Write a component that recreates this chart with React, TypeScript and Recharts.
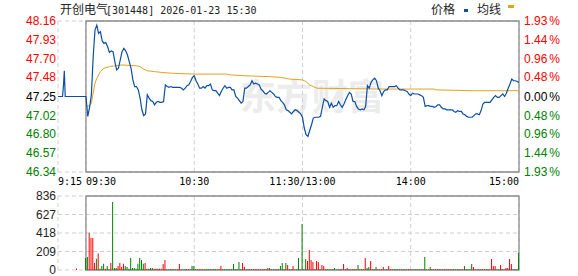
import React from 'react';
import { ComposedChart, Line, Bar, Cell, XAxis, YAxis, CartesianGrid, ReferenceArea } from 'recharts';

const prevClose = 47.25;
const priceTicks = [46.34, 46.57, 46.8, 47.02, 47.25, 47.48, 47.7, 47.93, 48.16];
const pctLabels = ['1.93%', '1.44%', '0.96%', '0.48%', '0.00%', '0.48%', '0.96%', '1.44%', '1.93%'];
const timeTicks = [-15.5, 0, 60, 120, 180, 240];
const timeLabels = ['9:15', '09:30', '10:30', '11:30/13:00', '14:00', '15:00'];
const volTicks = [0, 209, 418, 627, 836];

// call auction 9:15-9:30 (minutes before 9:30)
const preTimes = [-15.5, -13, -12.5, -12, -11.5, -1];
const prePrices = [47.25, 47.25, 47.37, 47.56, 47.25, 47.25];

// one price per minute, 9:30 .. 15:00 (lunch break removed)
const prices = [
  47.25, 47.01, 47.12, 47.27, 47.73, 48.05, 48.11, 48.01, 48.03, 47.92,
  47.89, 47.9, 47.85, 47.78, 47.8, 47.79, 47.67, 47.57, 47.59, 47.69,
  47.79, 47.83, 47.8, 47.75, 47.67, 47.59, 47.45, 47.37, 47.37, 47.33,
  47.23, 47.09, 47.02, 47.04, 47.27, 47.23, 47.2, 47.19, 47.15, 47.18,
  47.19, 47.18, 47.18, 47.19, 47.39, 47.37, 47.36, 47.37, 47.36, 47.36,
  47.36, 47.36, 47.36, 47.35, 47.33, 47.35, 47.38, 47.39, 47.43, 47.48,
  47.5, 47.44, 47.4, 47.35, 47.35, 47.37, 47.35, 47.38, 47.38, 47.4,
  47.33, 47.32, 47.32, 47.29, 47.26, 47.31, 47.35, 47.38, 47.35, 47.36,
  47.36, 47.33, 47.33, 47.25, 47.23, 47.2, 47.17, 47.19, 47.35, 47.35,
  47.37, 47.39, 47.44, 47.4, 47.41, 47.4, 47.39, 47.34, 47.32, 47.29,
  47.28, 47.3, 47.32, 47.3, 47.28, 47.25, 47.24, 47.24, 47.2, 47.18,
  47.15, 47.09, 47.08, 47.06, 47.04, 47.07, 47.09, 47.08, 47.06, 47.04,
  47.0, 46.87, 46.79, 46.77, 46.84, 46.91, 46.99, 47.0, 47.0, 47.0,
  47.01, 47.12, 47.22, 47.2, 47.19, 47.12, 47.17, 47.12, 47.14, 47.14,
  47.19, 47.15, 47.12, 47.16, 47.21, 47.26, 47.3, 47.28, 47.19, 47.19,
  47.13, 47.1, 47.09, 47.1, 47.09, 47.13, 47.38, 47.35, 47.42, 47.45,
  47.47, 47.44, 47.35, 47.32, 47.26, 47.31, 47.33, 47.33, 47.37, 47.37,
  47.37, 47.37, 47.38, 47.35, 47.33, 47.33, 47.33, 47.32, 47.31, 47.28,
  47.26, 47.29, 47.28, 47.28, 47.28, 47.27, 47.26, 47.24, 47.13, 47.14,
  47.14, 47.13, 47.13, 47.12, 47.13, 47.15, 47.15, 47.12, 47.1, 47.1,
  47.09, 47.09, 47.09, 47.09, 47.07, 47.06, 47.08, 47.07, 47.07, 47.04,
  47.03, 47.01, 47.0, 47.0, 47.0, 47.02, 47.04, 47.04, 47.03, 47.08,
  47.16, 47.18, 47.18, 47.18, 47.18, 47.21, 47.24, 47.26, 47.24, 47.24,
  47.26, 47.28, 47.25, 47.29, 47.35, 47.4, 47.46, 47.44, 47.44, 47.43,
  47.42,
];

const avgTimes = [0, 2, 3, 4, 5, 6, 8, 10, 13, 16, 20, 28, 30, 32, 34, 38, 42, 48, 60, 78, 80, 88, 101, 108, 113, 120, 121, 122, 124, 126, 128, 160, 193, 194, 214, 240];
const avgValues = [47.13, 47.14, 47.17, 47.29, 47.41, 47.47, 47.55, 47.59, 47.61, 47.62, 47.63, 47.62, 47.61, 47.58, 47.56, 47.55, 47.54, 47.53, 47.52, 47.52, 47.51, 47.5, 47.49, 47.48, 47.46, 47.45, 47.44, 47.43, 47.39, 47.37, 47.35, 47.34, 47.34, 47.33, 47.32, 47.32];

// volume per minute (hands), plus one auction bar
const preVolTime = -5;
const preVol = 18;
const volumes = [
  136, 147, 422, 362, 362, 79, 128, 185, 15, 45,
  72, 15, 45, 8, 79, 769, 23, 23, 45, 79,
  34, 72, 45, 34, 15, 136, 23, 23, 15, 72,
  136, 113, 72, 79, 15, 15, 23, 23, 15, 15,
  15, 15, 15, 68, 113, 8, 8, 8, 8, 8,
  8, 8, 68, 8, 8, 8, 8, 8, 8, 45,
  45, 8, 8, 8, 8, 8, 8, 8, 8, 8,
  8, 8, 8, 8, 8, 45, 8, 8, 8, 8,
  8, 8, 68, 8, 8, 90, 8, 79, 34, 8,
  8, 8, 8, 8, 8, 8, 8, 8, 8, 8,
  8, 23, 23, 8, 8, 8, 8, 8, 45, 79,
  8, 79, 57, 8, 8, 45, 8, 8, 136, 8,
  520, 8, 124, 102, 226, 113, 90, 8, 102, 90,
  8, 57, 45, 8, 8, 8, 8, 8, 23, 8,
  8, 8, 8, 68, 8, 23, 8, 8, 8, 8,
  8, 57, 8, 8, 8, 136, 23, 34, 102, 8,
  8, 34, 8, 8, 8, 34, 8, 8, 45, 8,
  8, 8, 8, 8, 8, 8, 8, 8, 8, 8,
  8, 8, 8, 8, 8, 8, 8, 8, 147, 8,
  8, 34, 8, 8, 8, 8, 8, 8, 8, 8,
  8, 8, 8, 8, 8, 8, 8, 8, 8, 8,
  45, 8, 8, 8, 68, 34, 8, 8, 8, 8,
  8, 8, 8, 8, 8, 124, 45, 45, 8, 8,
  57, 8, 8, 23, 23, 124, 68, 8, 8, 8,
  192,
];
// r = up tick, g = down tick
const volDir =
  'ggrrrrgrgg' + 'grggrgggrr' + 'rrgggggggg' + 'gggrgrggrr' + 'rrrrrggrgg' +
  'rrrggrrrgg' + 'grgrrrgggg' + 'rggrrrgggg' + 'gggggggrrg' + 'rrgrrrrrgr' +
  'rrgrggrggg' + 'rgrrgrgggr' + 'gggrrrrrrr' + 'grrrggrggg' + 'rgrrrrrgrr' +
  'ggrrgrggrr' + 'rgrrrrgrrr' + 'rgggrrggrr' + 'rggrggrggr' + 'ggrgrrgrrg' +
  'rrgrgggrrg' + 'grgggrrrrg' + 'rrgrrrrrgg' + 'rgrrrrrggg' + 'g';

const RED = '#ff0000';
const GREEN = '#008000';
const BLUE = '#0c4ea2';
const GOLD = '#e0a31f';
const GRID = '#cfcfcf';
const BORDER = '#8c8c8c';
const NUM_FONT = '"Liberation Sans", Arial, sans-serif';
const MONO = '"DejaVu Sans Mono", monospace';
const CJK = '"Noto Sans CJK SC", sans-serif';

const priceData = [
  ...preTimes.map((t, i) => ({ t, p: prePrices[i] })),
  ...prices.map((p, i) => ({ t: i, p })),
];
const avgData = avgTimes.map((t, i) => ({ t, a: avgValues[i] }));
const volData = [
  { t: preVolTime, v: preVol, d: 'r' },
  ...volumes.map((v, i) => ({ t: i, v, d: volDir[i] })),
];

const tone = (v: number) => (v > prevClose + 0.001 ? RED : v < prevClose - 0.001 ? GREEN : '#000');

const PriceTick = ({ x, y, payload }: any) => (
  <text x={x} y={y} dy={4} textAnchor="end" fill={tone(payload.value)} fontSize={12} fontFamily={NUM_FONT}>
    {payload.value.toFixed(2)}
  </text>
);

const PctTick = ({ x, y, payload }: any) => {
  const label = pctLabels[priceTicks.indexOf(payload.value)];
  return (
    <text x={x} y={y} dy={4} textAnchor="start" fill={tone(payload.value)} fontSize={12} fontFamily={NUM_FONT}>
      {label.slice(0, -1)}
      <tspan dx={2}>{label.slice(-1)}</tspan>
    </text>
  );
};

const TimeTick = ({ x, y, payload }: any) => {
  const i = timeTicks.indexOf(payload.value);
  const anchor = i < 2 ? 'start' : i === timeTicks.length - 1 ? 'end' : 'middle';
  return (
    <text x={x} y={y} dy={13} textAnchor={anchor} fill="#000" fontSize={10} fontFamily={MONO}>
      {timeLabels[i]}
    </text>
  );
};

const VolTick = ({ x, y, payload }: any) => (
  <text x={x} y={y} dy={4} textAnchor="end" fill="#222" fontSize={12} fontFamily={NUM_FONT}>
    {payload.value}
  </text>
);

export default function App() {
  return (
    <div style={{ position: 'absolute', left: 0, top: 0, width: 578, height: 276, background: '#fff', overflow: 'hidden' }}>
      <svg width={578} height={276} style={{ position: 'absolute', left: 0, top: 0 }}>
        <text x={240} y={110} fontSize={36} fontWeight="bold" fill="#ececec" fontFamily={CJK}>东方财富</text>
        <text x={60} y={14} fontSize={12} fill="#222" fontFamily={CJK}>开创电气</text>
        <text x={106} y={14} fontSize={10} fill="#222" fontFamily={MONO}>[301448] 2026-01-23 15:30</text>
        <text x={431} y={14} fontSize={12} fill="#222" fontFamily={CJK}>价格</text>
        <rect x={464} y={9} width={4} height={3} fill={BLUE} />
        <text x={477} y={14} fontSize={12} fill="#222" fontFamily={CJK}>均线</text>
        <rect x={508} y={5} width={6} height={3} fill={GOLD} />
      </svg>

      <div style={{ position: 'absolute', left: 0, top: 0 }}>
        <ComposedChart width={578} height={192} data={priceData} margin={{ top: 21, right: 0, bottom: 0, left: 0 }}>
          <CartesianGrid stroke={GRID} strokeDasharray="4 3" />
          <XAxis
            dataKey="t"
            type="number"
            domain={[-15.5, 240]}
            ticks={timeTicks}
            interval={0}
            height={20}
            axisLine={false}
            tickLine={false}
            tickSize={0}
            tickMargin={0}
            tick={<TimeTick />}
            allowDataOverflow
          />
          <YAxis
            yAxisId="p"
            domain={[46.34, 48.16]}
            ticks={priceTicks}
            interval={0}
            width={58}
            axisLine={false}
            tickLine={false}
            tickSize={0}
            tickMargin={2}
            tick={<PriceTick />}
            allowDataOverflow
          />
          <YAxis
            yAxisId="r"
            orientation="right"
            domain={[46.34, 48.16]}
            ticks={priceTicks}
            interval={0}
            width={59}
            axisLine={false}
            tickLine={false}
            tickSize={0}
            tickMargin={5}
            tick={<PctTick />}
            allowDataOverflow
          />
          <ReferenceArea yAxisId="p" x1={0} x2={240} y1={46.34} y2={48.16} fill="none" stroke={BORDER} strokeWidth={1.3} ifOverflow="visible" />
          <Line yAxisId="p" data={avgData} dataKey="a" type="linear" stroke={GOLD} strokeWidth={1} dot={false} isAnimationActive={false} />
          <Line yAxisId="p" dataKey="p" type="linear" stroke={BLUE} strokeWidth={1.2} dot={false} isAnimationActive={false} />
        </ComposedChart>
      </div>

      <div style={{ position: 'absolute', left: 0, top: 190 }}>
        <ComposedChart width={578} height={86} data={volData} margin={{ top: 6, right: 59, bottom: 6, left: 0 }}>
          <CartesianGrid stroke={GRID} strokeDasharray="4 3" />
          <XAxis dataKey="t" type="number" domain={[-15.5, 240]} ticks={timeTicks} interval={0} hide allowDataOverflow />
          <YAxis
            domain={[0, 836]}
            ticks={volTicks}
            interval={0}
            width={58}
            axisLine={false}
            tickLine={false}
            tickSize={0}
            tickMargin={2}
            tick={<VolTick />}
            allowDataOverflow
          />
          <ReferenceArea x1={0} x2={240} y1={0} y2={836} fill="none" stroke={BORDER} strokeWidth={1.3} ifOverflow="visible" />
          <Bar dataKey="v" barSize={1} isAnimationActive={false}>
            {volData.map((e, i) => (
              <Cell key={i} fill={e.d === 'r' ? RED : GREEN} />
            ))}
          </Bar>
        </ComposedChart>
      </div>
    </div>
  );
}
